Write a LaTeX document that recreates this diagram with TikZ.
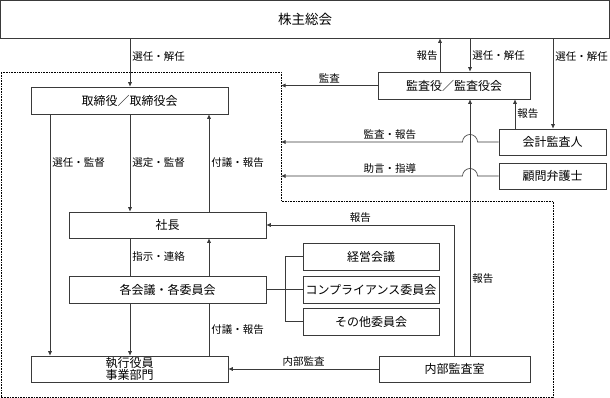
\documentclass[tikz,border=0pt]{standalone}
\usepackage{fontspec}
\setmainfont{Noto Sans CJK JP}
\usepackage{tikz}
\usetikzlibrary{arrows.meta,calc}
\definecolor{lineGray}{HTML}{3A3A3A}

\begin{document}
\begin{tikzpicture}[x=1pt, y=1pt,
  box/.style={draw=lineGray, line width=0.6pt, inner sep=0pt, align=center,
    font=\fontsize{12}{11.5}\selectfont},
  lbl/.style={font=\fontsize{10.5}{12}\selectfont, inner sep=2pt},
  arr/.style={draw=lineGray, line width=0.6pt, -{Latex[length=4.5pt,width=4pt]}},
  ln/.style={draw=lineGray, line width=0.6pt},
  dotline/.style={line width=0.8pt, dash pattern=on 0.8pt off 0.8pt}]
  \useasboundingbox (0,0) rectangle (610,-398);

  % dotted frame (execution side)
  \draw[dotline] (1,-72) -- (281,-72) -- (281,-201) -- (553,-201) -- (553,-397) -- (1,-397) -- cycle;

  \node[box, minimum width=609pt, minimum height=37.5pt, font=\fontsize{13.5}{14}\selectfont] (kabu) at (305,-19.25) {株主総会};
  \node[box, minimum width=197pt, minimum height=27pt] (torishimari) at (129.5,-100.5) {取締役／取締役会};
  \node[box, minimum width=152pt, minimum height=27pt] (kansayaku) at (454,-85.5) {監査役／監査役会};
  \node[box, minimum width=107pt, minimum height=26pt] (kaikei) at (552.5,-142) {会計監査人};
  \node[box, minimum width=107pt, minimum height=26pt] (komon) at (552.5,-176) {顧問弁護士};
  \node[box, minimum width=197pt, minimum height=26pt] (shacho) at (167.5,-225) {社長};
  \node[box, minimum width=197pt, minimum height=27pt] (kaigi) at (167.5,-289.5) {各会議・各委員会};
  \node[box, minimum width=136pt, minimum height=27pt] (keiei) at (371,-256.5) {経営会議};
  \node[box, minimum width=136pt, minimum height=27pt] (compliance) at (371,-289.5) {コンプライアンス委員会};
  \node[box, minimum width=136pt, minimum height=27pt] (sonota) at (371,-321.5) {その他委員会};
  \node[box, minimum width=197pt, minimum height=26pt] (shikko) at (129.5,-369) {執行役員\\事業部門};
  \node[box, minimum width=151pt, minimum height=26pt] (naibu) at (454.5,-369) {内部監査室};

  % columns for the vertical connectors
  \coordinate (colA) at (50,0);
  \coordinate (colB) at (130,0);
  \coordinate (colC) at (209,0);
  \coordinate (colD) at (440,0);
  \coordinate (colE) at (470,0);
  \coordinate (colF) at (515,0);
  \coordinate (colG) at (553,0);
  \coordinate (dotE) at (281,0);
  \coordinate (hopR) at (477.5,0);
  \coordinate (brk) at (285,0);

  % shareholders
  \draw[arr] (colB |- kabu.south) -- (colB |- torishimari.north) node[lbl, pos=.37, right] {選任・解任};
  \draw[arr] (colD |- kansayaku.north) -- (colD |- kabu.south) node[lbl, pos=.47, left] {報告};
  \draw[arr] (colE |- kabu.south) -- (colE |- kansayaku.north) node[lbl, pos=.53, right] {選任・解任};
  \draw[arr] (colG |- kabu.south) -- (colG |- kaikei.north) node[lbl, pos=.2, right] {選任・解任};

  % audit side
  \draw[arr] (kansayaku.west) -- (dotE |- kansayaku.west) node[lbl, midway, above] {監査};
  \draw[arr] (colF |- kaikei.north) -- (colF |- kansayaku.south) node[lbl, midway, right] {報告};
  \draw[arr] (kaikei.west) -- (hopR |- kaikei.west) arc[start angle=0, end angle=180, radius=7.5pt]
    -- (dotE |- kaikei.west) node[lbl, pos=.4, above] {監査・報告};
  \draw[arr] (komon.west) -- (hopR |- komon.west) arc[start angle=0, end angle=180, radius=7.5pt]
    -- (dotE |- komon.west) node[lbl, pos=.4, above] {助言・指導};

  % board and president
  \draw[arr] (colA |- torishimari.south) -- (colA |- shikko.north) node[lbl, pos=.2, right] {選任・監督};
  \draw[arr] (colB |- torishimari.south) -- (colB |- shacho.north) node[lbl, midway, right] {選定・監督};
  \draw[arr] (colC |- shacho.north) -- (colC |- torishimari.south) node[lbl, midway, right] {付議・報告};
  \draw[ln] (colB |- shacho.south) -- (colB |- kaigi.north) node[lbl, midway, right] {指示・連絡};
  \draw[arr] (colC |- kaigi.north) -- (colC |- shacho.south);
  \draw[arr] (colB |- kaigi.south) -- (colB |- shikko.north);
  \draw[ln] (colC |- shikko.north) -- (colC |- kaigi.south) node[lbl, midway, right] {付議・報告};

  % committees
  \draw[ln] (kaigi.east) -- (brk |- kaigi.east);
  \draw[ln] (keiei.west) -| (brk |- sonota.west) -- (sonota.west);
  \draw[ln] (compliance.west) -- (brk |- compliance.west);

  % internal audit
  \draw[arr] (naibu.west) -- (shikko.east) node[lbl, midway, above] {内部監査};
  \draw[arr] (naibu.north) |- (shacho.east) node[lbl, pos=.75, above] {報告};
  \draw[arr] (colE |- naibu.north) -- (colE |- kansayaku.south) node[lbl, pos=.3, right] {報告};
\end{tikzpicture}
\end{document}
